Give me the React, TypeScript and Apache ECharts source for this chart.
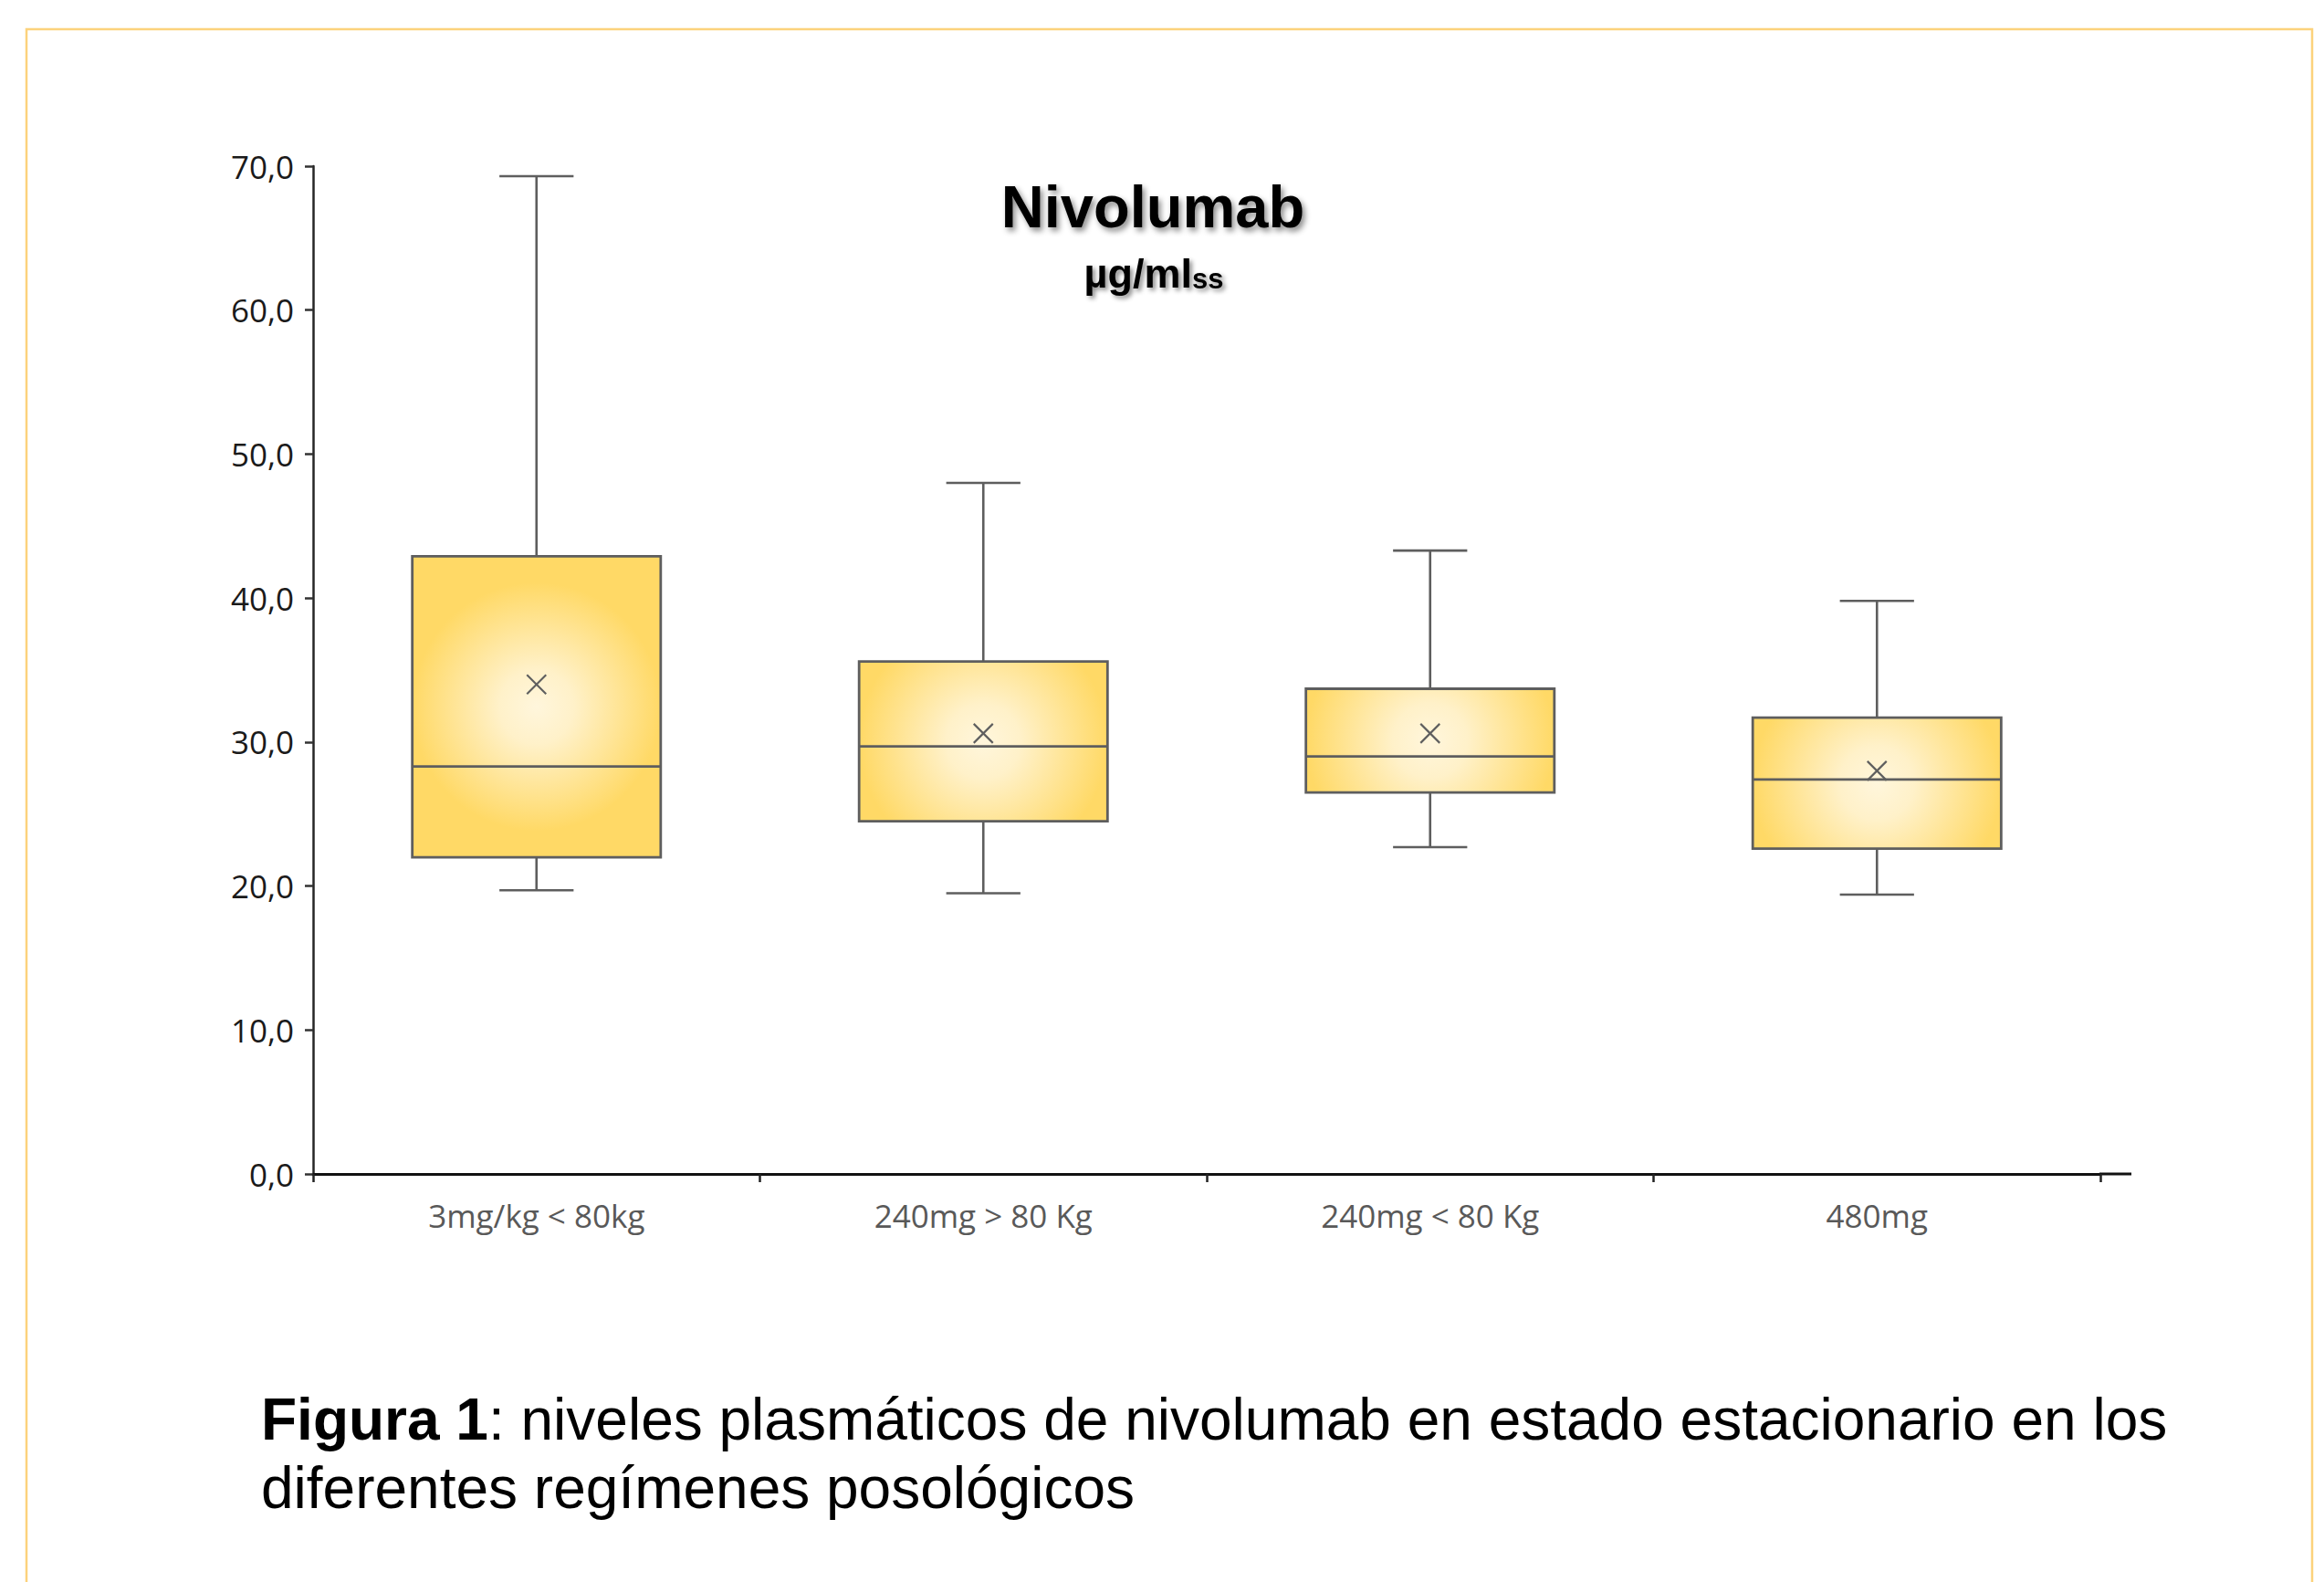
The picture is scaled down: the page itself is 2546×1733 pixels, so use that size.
import React, { useEffect, useRef } from 'react';
import * as echarts from 'echarts';

const categories = ['3mg/kg < 80kg', '240mg > 80 Kg', '240mg < 80 Kg', '480mg'];
const whiskerLow = [19.7, 19.5, 22.7, 19.4];
const q1 = [22.0, 24.5, 26.5, 22.6];
const median = [28.3, 29.7, 29.0, 27.4];
const q3 = [42.9, 35.6, 33.7, 31.7];
const whiskerHigh = [69.3, 48.0, 43.3, 39.8];
const means = [34.0, 30.6, 30.6, 28.0];

const yMin = 0;
const yMax = 70;
const yStep = 10;

const titleText = 'Nivolumab';
const unitText = 'µg/ml';
const unitSub = 'ss';
const captionBold = 'Figura 1';
const captionLine1 = ': niveles plasmáticos de nivolumab en estado estacionario en los';
const captionLine2 = 'diferentes regímenes posológicos';

export default function App() {
  const ref = useRef<HTMLDivElement>(null);

  useEffect(() => {
    if (!ref.current) return;
    const chart = echarts.init(ref.current, undefined, { renderer: 'svg' });
    const data = categories.map((_, i) => [i, whiskerLow[i], q1[i], median[i], q3[i], whiskerHigh[i], means[i]]);
    const stroke = '#5e5e5e';

    const option: any = {
      animation: false,
      backgroundColor: '#ffffff',
      grid: {
        left: 343,
        right: 245,
        top: 182,
        bottom: 447,
        containLabel: false,
        outerBoundsMode: 'none',
      },
      xAxis: {
        type: 'category',
        data: categories,
        boundaryGap: true,
        axisLine: { show: true, lineStyle: { color: '#111111', width: 3 } },
        axisTick: { show: true, length: 9, lineStyle: { color: '#222222', width: 2.5 } },
        axisLabel: {
          color: '#595959',
          fontFamily: 'Open Sans',
          fontSize: 35,
          margin: 28,
        },
        splitLine: { show: false },
      },
      yAxis: {
        type: 'value',
        min: yMin,
        max: yMax,
        interval: yStep,
        axisLine: { show: true, lineStyle: { color: '#262626', width: 2.5 } },
        axisTick: { show: true, length: 9, lineStyle: { color: '#333333', width: 2.5 } },
        axisLabel: {
          color: '#1a1a1a',
          fontFamily: 'Open Sans',
          fontSize: 35,
          margin: 21,
          formatter: (v: number) => v.toFixed(1).replace('.', ','),
        },
        splitLine: { show: false },
      },
      graphic: [
        {
          type: 'rect',
          z: 0,
          shape: { x: 29, y: 32, width: 2504, height: 1800 },
          style: { fill: 'none', stroke: '#fcd27c', lineWidth: 2.5 },
          silent: true,
        },
        {
          type: 'line',
          shape: { x1: 2300, y1: 1286, x2: 2335, y2: 1286 },
          style: { stroke: '#111111', lineWidth: 3 },
          silent: true,
        },
        {
          type: 'text',
          x: 1263,
          y: 226,
          style: {
            text: titleText,
            fontFamily: 'Liberation Sans',
            fontWeight: 'bold',
            fontSize: 65,
            fill: '#000000',
            align: 'center',
            verticalAlign: 'middle',
            textShadowColor: 'rgba(0,0,0,0.45)',
            textShadowBlur: 6,
            textShadowOffsetX: 3,
            textShadowOffsetY: 4,
          },
        },
        {
          type: 'text',
          x: 1264,
          y: 299,
          style: {
            text: '{a|' + unitText + '}{b|' + unitSub + '}',
            align: 'center',
            verticalAlign: 'middle',
            rich: {
              a: {
                fontFamily: 'Liberation Sans',
                fontWeight: 'bold',
                fontSize: 45,
                lineHeight: 44,
                color: '#000000',
                textShadowColor: 'rgba(0,0,0,0.45)',
                textShadowBlur: 5,
                textShadowOffsetX: 3,
                textShadowOffsetY: 3,
              },
              b: {
                fontFamily: 'Liberation Sans',
                fontWeight: 'bold',
                fontSize: 31,
                lineHeight: 12,
                verticalAlign: 'bottom',
                color: '#000000',
                textShadowColor: 'rgba(0,0,0,0.45)',
                textShadowBlur: 5,
                textShadowOffsetX: 3,
                textShadowOffsetY: 3,
              },
            },
          },
        },
        {
          type: 'text',
          x: 286,
          y: 1555,
          style: {
            text: '{b|' + captionBold + '}{n|' + captionLine1 + '}',
            align: 'left',
            verticalAlign: 'middle',
            rich: {
              b: { fontFamily: 'Liberation Sans', fontWeight: 'bold', fontSize: 64, color: '#000000' },
              n: { fontFamily: 'Liberation Sans', fontSize: 64, color: '#000000' },
            },
          },
        },
        {
          type: 'text',
          x: 286,
          y: 1630,
          style: {
            text: captionLine2,
            fontFamily: 'Liberation Sans',
            fontSize: 64,
            fill: '#000000',
            align: 'left',
            verticalAlign: 'middle',
          },
        },
      ],
      series: [
        {
          type: 'custom',
          data,
          encode: { x: 0, y: [1, 2, 3, 4, 5, 6] },
          renderItem: (params: any, api: any) => {
            const idx = api.value(0);
            const pLow = api.coord([idx, api.value(1)]);
            const pQ1 = api.coord([idx, api.value(2)]);
            const pMed = api.coord([idx, api.value(3)]);
            const pQ3 = api.coord([idx, api.value(4)]);
            const pHigh = api.coord([idx, api.value(5)]);
            const pMean = api.coord([idx, api.value(6)]);
            const band = api.size([1, 0])[0];
            const cx = pMed[0];
            const bw = band * 0.556;
            const cw = band * 0.166;
            const left = cx - bw / 2;
            const top = pQ3[1];
            const h = pQ1[1] - pQ3[1];
            const cy = top + h / 2;
            const ls = { stroke, lineWidth: 2.6 };
            const m = 10.5;
            return {
              type: 'group',
              children: [
                { type: 'line', shape: { x1: cx, y1: pHigh[1], x2: cx, y2: pQ3[1] }, style: ls },
                { type: 'line', shape: { x1: cx - cw / 2, y1: pHigh[1], x2: cx + cw / 2, y2: pHigh[1] }, style: ls },
                { type: 'line', shape: { x1: cx, y1: pQ1[1], x2: cx, y2: pLow[1] }, style: ls },
                { type: 'line', shape: { x1: cx - cw / 2, y1: pLow[1], x2: cx + cw / 2, y2: pLow[1] }, style: ls },
                {
                  type: 'rect',
                  shape: { x: left, y: top, width: bw, height: h },
                  style: {
                    fill: {
                      type: 'radial',
                      x: cx,
                      y: cy,
                      r: bw * 0.5,
                      global: true,
                      colorStops: [
                        { offset: 0, color: '#fff6dc' },
                        { offset: 0.3, color: '#fff1c9' },
                        { offset: 1, color: '#ffd966' },
                      ],
                    },
                    stroke,
                    lineWidth: 2.8,
                  },
                },
                { type: 'line', shape: { x1: left, y1: pMed[1], x2: left + bw, y2: pMed[1] }, style: ls },
                { type: 'line', shape: { x1: cx - m, y1: pMean[1] - m, x2: cx + m, y2: pMean[1] + m }, style: { stroke, lineWidth: 2.2 } },
                { type: 'line', shape: { x1: cx - m, y1: pMean[1] + m, x2: cx + m, y2: pMean[1] - m }, style: { stroke, lineWidth: 2.2 } },
              ],
            };
          },
        },
      ],
    };

    chart.setOption(option);
    return () => chart.dispose();
  }, []);

  return (
    <div
      ref={ref}
      style={{ position: 'absolute', left: 0, top: 0, width: 2546, height: 1733 }}
    />
  );
}
